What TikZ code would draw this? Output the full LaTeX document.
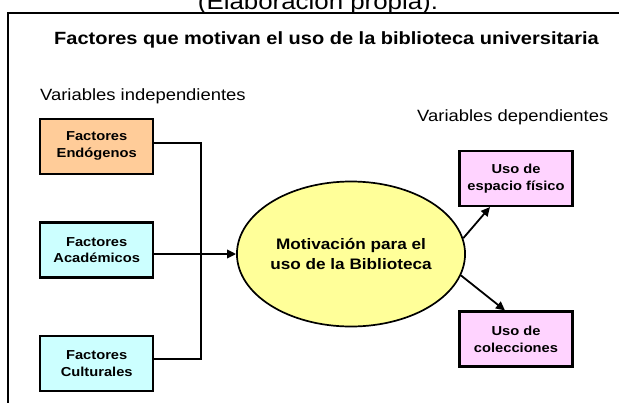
\documentclass[tikz,border=0pt]{standalone}
\usepackage{fontspec}
\setmainfont{Liberation Sans}[FakeStretch=1.13]
\usetikzlibrary{shapes.geometric,arrows.meta}
\definecolor{peach}{HTML}{FFCC99}
\definecolor{lcyan}{HTML}{CCFFFF}
\definecolor{lyellow}{HTML}{FFFF99}
\definecolor{lpink}{HTML}{FFD3FF}
\tikzset{
  factorbox/.style={draw=black, line width=2.1pt, minimum width=113pt, minimum height=55pt,
    inner sep=0pt, align=center, font=\fontsize{13}{16.8}\selectfont\bfseries},
  usebox/.style={factorbox},
  motiv/.style={ellipse, draw=black, line width=1.7pt, fill=lyellow, minimum width=188pt,
    minimum height=145pt, inner sep=0pt, align=center, font=\fontsize{15.2}{20}\selectfont\bfseries},
  conn/.style={line width=1.8pt},
  arr/.style={line width=1.8pt, -{Triangle[length=9pt,width=8.5pt]}},
  frame/.style={line width=2.2pt},
}
\begin{document}
\begin{tikzpicture}[x={(1pt,0pt)}, y={(0pt,-1pt)}]
\useasboundingbox (0,0) rectangle (619,402);
% caption (cut off at top, as in the reference)
\node[anchor=base, inner sep=0pt, font=\fontsize{22.9}{24}\selectfont] (cap) at (318,9) {(Elaboración propia).};
% frame
\coordinate (fbl) at (8,403);
\coordinate (ftl) at (8,13.3);
\coordinate (ftr) at (620,13.3);
\draw[frame] (fbl) -- (ftl) -- (ftr);
% title
\node[anchor=base, inner sep=0pt, font=\fontsize{17.7}{20}\selectfont\bfseries] (title) at (326.5,44.3)
  {Factores que motivan el uso de la biblioteca universitaria};
\node[anchor=base west, inner sep=0pt, font=\fontsize{16.3}{19}\selectfont] (vind) at (40,100)
  {Variables independientes};
\node[anchor=base west, inner sep=0pt, font=\fontsize{16.3}{19}\selectfont] (vdep) at (417,121.7)
  {Variables dependientes};
% left boxes
\node[factorbox, fill=peach] (endo) at (96.7,146.2) {Factores\\Endógenos};
\node[factorbox, fill=lcyan] (acad) at (96.7,250) {Factores\\Académicos};
\node[factorbox, fill=lcyan] (cult) at (96.7,363.5) {Factores\\Culturales};
% ellipse
\node[motiv] (mot) at (351,254) {Motivación para el\\uso de la Biblioteca};
% right boxes
\node[usebox, fill=lpink] (esp) at (516,178.5) {Uso de\\espacio físico};
\node[usebox, fill=lpink] (col) at (516,339) {Uso de\\colecciones};
% connectors
\coordinate (jtop) at (200.7,142.7);
\coordinate (jbot) at (200.7,359.3);
\draw[conn] ([yshift=3.5pt]endo.east) -- (jtop) -- (jbot) -- ([yshift=4.2pt]cult.east);
\draw[arr] ([yshift=-4pt]acad.east) -- (mot.west);
\draw[arr] (mot.8) -- ([xshift=-26pt]esp.south);
\draw[arr] (mot.-11) -- ([xshift=-11pt]col.north);
\end{tikzpicture}
\end{document}
